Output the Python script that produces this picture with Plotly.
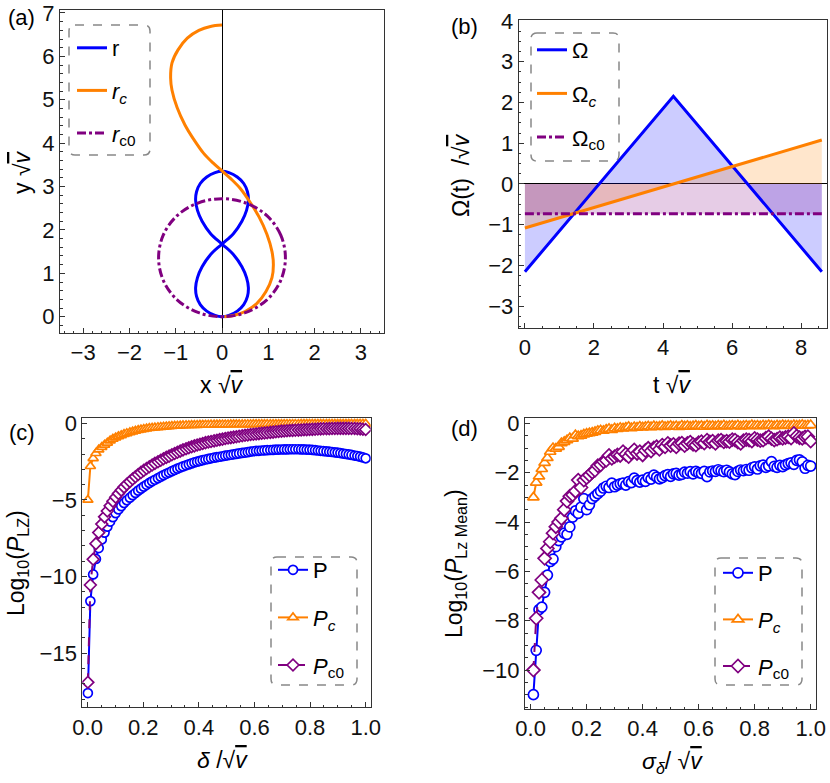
import plotly.graph_objects as go

# ---------------- data ----------------
# (a) trajectories
r_x = [0, 0.15, 0.33, 0.47, 0.55, 0.57, 0.53, 0.43, 0.25, 0,
       -0.25, -0.43, -0.53, -0.57, -0.55, -0.47, -0.33, -0.15, 0,
       0.15, 0.33, 0.47, 0.55, 0.57, 0.53, 0.43, 0.25, 0,
       -0.25, -0.43, -0.53, -0.57, -0.55, -0.47, -0.33, -0.15, 0]
r_y = [0, 0.03, 0.13, 0.28, 0.47, 0.67, 0.90, 1.15, 1.43, 1.675,
       1.92, 2.20, 2.45, 2.68, 2.88, 3.07, 3.22, 3.32, 3.35,
       3.32, 3.22, 3.07, 2.88, 2.68, 2.45, 2.20, 1.92, 1.675,
       1.43, 1.15, 0.90, 0.67, 0.47, 0.28, 0.13, 0.03, 0]
rc_x = [0, -0.25, -0.5, -0.75, -0.95, -1.08, -1.11, -1.08, -0.97, -0.8, -0.6, -0.4, -0.2, 0,
        0.2, 0.4, 0.6, 0.8, 0.97, 1.08, 1.11, 1.08, 0.95, 0.75, 0.5, 0.25, 0.05]
rc_y = [6.72, 6.69, 6.6, 6.42, 6.15, 5.85, 5.5, 5.22, 4.82, 4.42, 4.07, 3.77, 3.55, 3.36,
        3.17, 2.95, 2.65, 2.3, 1.9, 1.5, 1.2, 0.9, 0.58, 0.3, 0.12, 0.03, 0.0]
rc0_x = [1.37, 1.27, 0.97, 0.52, 0, -0.52, -0.97, -1.27, -1.37, -1.27, -0.97, -0.52, 0, 0.52, 0.97, 1.27, 1.37]
rc0_y = [1.36, 1.88, 2.33, 2.62, 2.72, 2.62, 2.33, 1.88, 1.36, 0.84, 0.39, 0.10, 0.0, 0.10, 0.39, 0.84, 1.36]

# (b) detunings
t_omega = [0, 4.3, 8.6]
omega = [-2.15, 2.15, -2.15]
t_c = [0, 8.6]
omega_c = [-1.08, 1.08]
omega_c0 = [-0.73, -0.73]

# (c) log10 P_LZ vs delta
delta = [0.001, 0.010, 0.020, 0.030, 0.040, 0.051, 0.061, 0.071, 0.081, 0.091,
         0.101, 0.111, 0.121, 0.131, 0.141, 0.152, 0.162, 0.172, 0.182, 0.192,
         0.202, 0.212, 0.222, 0.232, 0.242, 0.253, 0.263, 0.273, 0.283, 0.293,
         0.303, 0.313, 0.323, 0.333, 0.343, 0.354, 0.364, 0.374, 0.384, 0.394,
         0.404, 0.414, 0.424, 0.434, 0.444, 0.455, 0.465, 0.475, 0.485, 0.495,
         0.505, 0.515, 0.525, 0.535, 0.545, 0.556, 0.566, 0.576, 0.586, 0.596,
         0.606, 0.616, 0.626, 0.636, 0.646, 0.657, 0.667, 0.677, 0.687, 0.697,
         0.707, 0.717, 0.727, 0.737, 0.747, 0.758, 0.768, 0.778, 0.788, 0.798,
         0.808, 0.818, 0.828, 0.838, 0.848, 0.859, 0.869, 0.879, 0.889, 0.899,
         0.909, 0.919, 0.929, 0.939, 0.949, 0.960, 0.970, 0.980, 0.990, 1.000]
logP_c = [-17.6, -11.6, -9.86, -8.85, -8.14, -7.58, -7.13, -6.74, -6.41, -6.12,
          -5.86, -5.62, -5.40, -5.20, -5.02, -4.85, -4.69, -4.54, -4.39, -4.26,
          -4.13, -4.01, -3.89, -3.78, -3.68, -3.58, -3.48, -3.38, -3.29, -3.21,
          -3.12, -3.04, -2.96, -2.88, -2.81, -2.74, -2.675, -2.61, -2.55, -2.50,
          -2.45, -2.40, -2.36, -2.32, -2.28, -2.24, -2.21, -2.18, -2.145, -2.11,
          -2.08, -2.05, -2.02, -1.99, -1.96, -1.93, -1.905, -1.88, -1.84, -1.82,
          -1.80, -1.79, -1.77, -1.76, -1.75, -1.74, -1.73, -1.72, -1.71, -1.705,
          -1.70, -1.70, -1.69, -1.69, -1.69, -1.69, -1.70, -1.70, -1.71, -1.72,
          -1.73, -1.75, -1.77, -1.79, -1.81, -1.83, -1.85, -1.87, -1.89, -1.91,
          -1.94, -1.97, -2.00, -2.03, -2.06, -2.10, -2.13, -2.17, -2.22, -2.28]
logPc_c = [-5.0, -2.8, -2.28, -1.95, -1.72, -1.55, -1.40, -1.27, -1.13, -1.02,
           -0.93, -0.85, -0.78, -0.71, -0.65, -0.59, -0.54, -0.49, -0.45, -0.41,
           -0.38, -0.35, -0.32, -0.30, -0.28, -0.26, -0.24, -0.225, -0.21, -0.195,
           -0.18, -0.17, -0.16, -0.15, -0.14, -0.13, -0.125, -0.12, -0.115, -0.11,
           -0.105, -0.10, -0.097, -0.094, -0.091, -0.088, -0.085, -0.082, -0.08, -0.078,
           -0.076, -0.074, -0.072, -0.07, -0.068, -0.066, -0.064, -0.062, -0.06, -0.059,
           -0.058, -0.057, -0.056, -0.055, -0.054, -0.053, -0.052, -0.051, -0.05, -0.049,
           -0.048, -0.047, -0.046, -0.045, -0.044, -0.043, -0.042, -0.041, -0.04, -0.04,
           -0.039, -0.039, -0.038, -0.038, -0.037, -0.037, -0.036, -0.036, -0.035, -0.035,
           -0.034, -0.034, -0.033, -0.033, -0.032, -0.032, -0.031, -0.031, -0.03, -0.03]
logPc0_c = [-16.9, -10.55, -8.87, -7.85, -7.13, -6.57, -6.10, -5.72, -5.38, -5.08,
            -4.82, -4.58, -4.36, -4.16, -3.97, -3.80, -3.63, -3.48, -3.34, -3.20,
            -3.07, -2.95, -2.83, -2.72, -2.61, -2.51, -2.41, -2.31, -2.22, -2.14,
            -2.05, -1.97, -1.89, -1.81, -1.73, -1.66, -1.59, -1.53, -1.47, -1.41,
            -1.36, -1.31, -1.26, -1.22, -1.18, -1.14, -1.10, -1.06, -1.03, -0.99,
            -0.96, -0.93, -0.90, -0.87, -0.84, -0.81, -0.78, -0.76, -0.73, -0.71,
            -0.69, -0.67, -0.65, -0.63, -0.61, -0.59, -0.57, -0.55, -0.53, -0.51,
            -0.50, -0.48, -0.47, -0.46, -0.45, -0.44, -0.43, -0.42, -0.41, -0.40,
            -0.39, -0.38, -0.37, -0.36, -0.355, -0.35, -0.345, -0.34, -0.335, -0.33,
            -0.33, -0.33, -0.33, -0.33, -0.335, -0.34, -0.35, -0.36, -0.38, -0.40]

# (d) log10 mean P_LZ vs sigma_delta
sigma = [0.01, 0.02, 0.03, 0.04, 0.05, 0.06, 0.07, 0.08, 0.09, 0.10,
         0.11, 0.12, 0.13, 0.14, 0.15, 0.16, 0.17, 0.18, 0.19, 0.20,
         0.21, 0.22, 0.23, 0.24, 0.25, 0.26, 0.27, 0.28, 0.29, 0.30,
         0.31, 0.32, 0.33, 0.34, 0.35, 0.36, 0.37, 0.38, 0.39, 0.40,
         0.41, 0.42, 0.43, 0.44, 0.45, 0.46, 0.47, 0.48, 0.49, 0.50,
         0.51, 0.52, 0.53, 0.54, 0.55, 0.56, 0.57, 0.58, 0.59, 0.60,
         0.61, 0.62, 0.63, 0.64, 0.65, 0.66, 0.67, 0.68, 0.69, 0.70,
         0.71, 0.72, 0.73, 0.74, 0.75, 0.76, 0.77, 0.78, 0.79, 0.80,
         0.81, 0.82, 0.83, 0.84, 0.85, 0.86, 0.87, 0.88, 0.89, 0.90,
         0.91, 0.92, 0.93, 0.94, 0.95, 0.96, 0.97, 0.98, 0.99, 1.00]
logP_d = [-11.0, -9.2, -7.55, -7.45, -6.85, -6.15, -5.6, -5.5, -5.0, -4.75,
          -4.6, -4.45, -4.5, -4.2, -3.8, -3.55, -3.65, -3.4, -3.05, -3.5,
          -3.3, -3.05, -2.95, -2.85, -2.75, -2.62, -2.55, -2.6, -2.42, -2.57,
          -2.5, -2.45, -2.42, -2.5, -2.36, -2.4, -2.22, -2.32, -2.38, -2.3,
          -2.35, -2.2, -2.26, -2.1, -2.18, -2.25, -2.2, -2.12, -2.08, -2.15,
          -2.05, -2.03, -2.1, -2.07, -1.98, -2.02, -1.96, -2.05, -1.95, -2.0,
          -2.03, -1.95, -2.16, -1.97, -1.93, -1.95, -1.88, -1.92, -1.96, -1.9,
          -1.97, -2.05, -2.08, -1.95, -1.89, -1.92, -1.87, -1.9, -1.8, -1.76,
          -1.85, -1.72, -1.69, -1.78, -1.72, -1.55, -1.74, -1.78, -1.7, -1.75,
          -1.68, -1.63, -1.6, -1.66, -1.5, -1.48, -1.56, -1.82, -1.7, -1.73]
logPc_d = [-3.0, -2.4, -2.15, -1.85, -1.6, -1.4, -1.15, -1.0, -1.02, -0.95,
           -0.8, -0.75, -0.68, -0.6, -0.62, -0.48, -0.52, -0.5, -0.45, -0.42,
           -0.4, -0.38, -0.35, -0.3, -0.28, -0.3, -0.25, -0.22, -0.26, -0.2,
           -0.22, -0.18, -0.2, -0.17, -0.14, -0.19, -0.15, -0.17, -0.13, -0.16,
           -0.14, -0.12, -0.15, -0.11, -0.14, -0.13, -0.1, -0.14, -0.12, -0.1,
           -0.13, -0.11, -0.14, -0.09, -0.12, -0.1, -0.13, -0.11, -0.09, -0.12,
           -0.1, -0.13, -0.08, -0.11, -0.1, -0.12, -0.09, -0.11, -0.08, -0.12,
           -0.1, -0.09, -0.11, -0.08, -0.12, -0.1, -0.09, -0.11, -0.07, -0.1,
           -0.09, -0.11, -0.08, -0.1, -0.07, -0.09, -0.11, -0.08, -0.1, -0.07,
           -0.09, -0.08, -0.1, -0.07, -0.09, -0.08, -0.06, -0.09, -0.08, -0.07]
logPc0_d = [-10.0, -7.9, -6.85, -6.35, -5.47, -5.07, -4.8, -4.45, -4.19, -4.0,
            -3.85, -3.5, -3.15, -2.95, -2.9, -2.75, -2.3, -2.6, -2.3, -2.2,
            -2.1, -1.98, -1.9, -1.72, -1.68, -1.55, -1.5, -1.3, -1.42, -1.35,
            -1.28, -1.3, -1.15, -1.25, -1.35, -1.2, -1.08, -1.22, -1.15, -1.28,
            -1.1, -1.01, -1.12, -1.0, -0.95, -1.05, -0.88, -0.95, -0.81, -0.9,
            -0.85, -0.95, -0.82, -0.8, -0.9, -0.81, -0.76, -0.85, -0.88, -0.78,
            -0.74, -0.8, -0.68, -0.75, -0.72, -0.81, -0.7, -0.68, -0.75, -0.72,
            -0.74, -0.66, -0.68, -0.76, -0.81, -0.7, -0.66, -0.68, -0.72, -0.61,
            -0.66, -0.7, -0.68, -0.6, -0.54, -0.62, -0.68, -0.64, -0.58, -0.61,
            -0.57, -0.54, -0.6, -0.41, -0.52, -0.58, -0.61, -0.55, -0.54, -0.72]

# ---------------- style ----------------
W, H = 830, 783
BLUE = "#0000ff"
ORANGE = "#ff8000"
PURPLE = "#800080"
FONT = "Liberation Sans, Arial, sans-serif"
FRAME = "#333333"


def px(x):
    return x / W


def py(y):
    return 1 - y / H


fig = go.Figure()

# (a)
fig.add_trace(go.Scatter(x=r_x, y=r_y, mode="lines", line=dict(color=BLUE, width=3, shape="spline"),
                         name="r", legend="legend", legendgroup="a1", xaxis="x", yaxis="y"))
fig.add_trace(go.Scatter(x=rc_x, y=rc_y, mode="lines", line=dict(color=ORANGE, width=3, shape="spline"),
                         name="<i>r</i><sub><i>c</i></sub>", legend="legend", legendgroup="a2", xaxis="x", yaxis="y"))
fig.add_trace(go.Scatter(x=rc0_x, y=rc0_y, mode="lines",
                         line=dict(color=PURPLE, width=3, shape="spline", dash="dashdot"),
                         name="<i>r</i><sub>c0</sub>", legend="legend", legendgroup="a3", xaxis="x", yaxis="y"))

# (b) fills first
for xs, ys, fc in [(t_omega, omega, "rgba(0,0,255,0.2)"),
                   (t_c, omega_c, "rgba(255,128,0,0.2)"),
                   (t_c, omega_c0, "rgba(128,0,128,0.2)")]:
    fig.add_trace(go.Scatter(x=xs, y=ys, mode="none", fill="tozeroy", fillcolor=fc,
                             showlegend=False, hoverinfo="skip", xaxis="x2", yaxis="y2"))
fig.add_trace(go.Scatter(x=t_omega, y=omega, mode="lines", line=dict(color=BLUE, width=3),
                         name="Ω", legend="legend2", legendgroup="b1", xaxis="x2", yaxis="y2"))
fig.add_trace(go.Scatter(x=t_c, y=omega_c, mode="lines", line=dict(color=ORANGE, width=3),
                         name="Ω<sub><i>c</i></sub>", legend="legend2", legendgroup="b2", xaxis="x2", yaxis="y2"))
fig.add_trace(go.Scatter(x=t_c, y=omega_c0, mode="lines", line=dict(color=PURPLE, width=3, dash="dashdot"),
                         name="Ω<sub>c0</sub>", legend="legend2", legendgroup="b3", xaxis="x2", yaxis="y2"))


def mk(sym, col, size):
    return dict(symbol=sym, size=size, color="white", line=dict(color=col, width=1.7))


# (c)
for ys, col, sym, nm, g, dash in [(logP_c, BLUE, "circle", "P", "c1", "solid"),
                                  (logPc_c, ORANGE, "triangle-up", "<i>P</i><sub><i>c</i></sub>", "c2", "solid"),
                                  (logPc0_c, PURPLE, "diamond", "<i>P</i><sub>c0</sub>", "c3", "dash")]:
    fig.add_trace(go.Scatter(x=delta, y=ys, mode="lines+markers", line=dict(color=col, width=2, dash=dash),
                             marker=mk(sym, col, 9), name=nm, legend="legend3", legendgroup=g,
                             xaxis="x3", yaxis="y3"))
# (d)
for ys, col, sym, nm, g, dash in [(logP_d, BLUE, "circle", "P", "d1", "solid"),
                                  (logPc_d, ORANGE, "triangle-up", "<i>P</i><sub><i>c</i></sub>", "d2", "solid"),
                                  (logPc0_d, PURPLE, "diamond", "<i>P</i><sub>c0</sub>", "d3", "dash")]:
    fig.add_trace(go.Scatter(x=sigma, y=ys, mode="lines+markers", line=dict(color=col, width=2, dash=dash),
                             marker=mk(sym, col, 10), name=nm, legend="legend4", legendgroup=g,
                             xaxis="x4", yaxis="y4"))


def axis(domain, rng, dtick, mdtick, anchor, fmt=None, zeroline=False):
    d = dict(domain=domain, range=rng, dtick=dtick, tick0=0, anchor=anchor,
             showline=True, mirror=True, linecolor=FRAME, linewidth=1,
             ticks="inside", ticklen=5, tickcolor=FRAME, tickwidth=1,
             showgrid=False, zeroline=zeroline, zerolinecolor="black", zerolinewidth=1,
             tickfont=dict(family=FONT, size=22, color="#111"),
             minor=dict(dtick=mdtick, tick0=0, ticks="inside", ticklen=2.5, tickcolor=FRAME, showgrid=False))
    if fmt:
        d["tickformat"] = fmt
    return d


fig.update_layout(
    width=W, height=H, margin=dict(l=0, r=0, t=0, b=0, autoexpand=False),
    paper_bgcolor="white", plot_bgcolor="white",
    font=dict(family=FONT, size=21, color="black"),
    xaxis=axis([px(60), px(384)], [-3.5, 3.5], 1, 0.2, "y", zeroline=True),
    yaxis=axis([py(333), py(9.5)], [-0.375, 7.08], 1, 0.2, "x"),
    xaxis2=axis([px(518.7), px(827)], [-0.18, 8.75], 2, 0.5, "y2"),
    yaxis2=axis([py(328), py(20)], [-3.53, 4.02], 1, 0.25, "x2", zeroline=True),
    xaxis3=axis([px(82.3), px(370.7)], [-0.019, 1.018], 0.2, 0.05, "y3", fmt=".1f"),
    yaxis3=axis([py(707.3), py(418.3)], [-18.53, 0.33], 5, 1, "x3"),
    xaxis4=axis([px(525), px(816)], [-0.02, 1.019], 0.2, 0.05, "y4", fmt=".1f"),
    yaxis4=axis([py(709), py(417.7)], [-11.58, 0.23], 2, 0.5, "x4"),
)

leg_common = dict(xanchor="left", yanchor="top", bgcolor="rgba(0,0,0,0)", borderwidth=0,
                  font=dict(family=FONT, size=22, color="black"))
fig.update_layout(
    legend=dict(x=px(72), y=py(27), tracegroupgap=11, **leg_common),
    legend2=dict(x=px(532), y=py(29), tracegroupgap=12, **leg_common),
    legend3=dict(x=px(273), y=py(549), tracegroupgap=16, **leg_common),
    legend4=dict(x=px(718), y=py(552), tracegroupgap=15, **leg_common),
)


def rounded_box(x0, y0, x1, y1, r=6):
    path = (f"M {px(x0 + r)},{py(y0)} L {px(x1 - r)},{py(y0)} Q {px(x1)},{py(y0)} {px(x1)},{py(y0 + r)} "
            f"L {px(x1)},{py(y1 - r)} Q {px(x1)},{py(y1)} {px(x1 - r)},{py(y1)} "
            f"L {px(x0 + r)},{py(y1)} Q {px(x0)},{py(y1)} {px(x0)},{py(y1 - r)} "
            f"L {px(x0)},{py(y0 + r)} Q {px(x0)},{py(y0)} {px(x0 + r)},{py(y0)} Z")
    return dict(type="path", xref="paper", yref="paper", path=path,
                line=dict(color="#888888", width=1.5, dash="dash"))


fig.update_layout(shapes=[rounded_box(69, 25, 150, 155), rounded_box(531, 33, 619, 161),
                          rounded_box(271, 557, 357, 685), rounded_box(715, 558, 802, 685)])

SQ = "√<span style='text-decoration:overline'><i>v</i></span>"
ann = [
    ("(a)", 21, 18, 22), ("(b)", 464, 26, 22), ("(c)", 22, 432, 22), ("(d)", 464, 429, 22),
    ("x " + SQ, 222, 385, 0), ("y " + SQ, 22, 172, -90),
    ("t " + SQ, 672, 385, 0), ("Ω(t)  /" + SQ, 461, 175, -90),
    ("<i>δ</i> /" + SQ, 222, 760, 0), ("Log<sub>10</sub>(<i>P</i><sub>LZ</sub>)", 17, 563, -90),
    ("<i>σ</i><sub><i>δ</i></sub>/ " + SQ, 672, 762, 0),
    ("Log<sub>10</sub>(<i>P</i><sub>Lz Mean</sub>)", 455, 564, -90),
]
annotations = []
for t, x, y, a in ann:
    size = 22 if a == 22 else 23
    angle = 0 if a == 22 else a
    annotations.append(dict(text=t, x=px(x), y=py(y), xref="paper", yref="paper",
                            showarrow=False, textangle=angle, xanchor="center", yanchor="middle",
                            font=dict(family=FONT, size=size, color="black")))
fig.update_layout(annotations=annotations)

fig.write_html("out.html", config={"displayModeBar": False},
               post_script="document.body.style.margin='0';document.body.style.overflow='hidden';")
